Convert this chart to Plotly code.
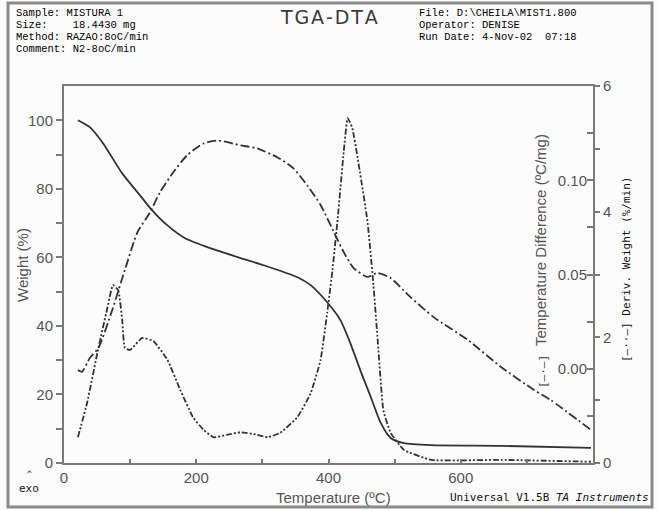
import plotly.graph_objects as go

# ---------------- data ----------------
weight_T = [21, 39, 59, 88, 115, 133, 156, 183, 221, 267, 302, 353, 373, 398, 418, 433, 448,
            464, 479, 494, 514, 555, 661, 797]
weight_pct = [100.0, 98.0, 93.3, 84.5, 78.1, 73.8, 69.4, 65.6, 62.7, 59.8, 57.7, 54.2, 51.9,
              46.9, 41.7, 35.0, 27.1, 19.2, 11.7, 7.3, 5.8, 5.2, 5.0, 4.4]

dta_T = [21, 27, 39, 52, 73, 92, 111, 130, 145, 165, 186, 211, 232, 267, 292, 323, 347, 368,
         388, 408, 423, 438, 459, 474, 494, 524, 559, 611, 661, 711, 736, 797]
dta_val = [-0.0007, -0.0017, 0.0057, 0.0110, 0.0312, 0.0524, 0.0723, 0.0829, 0.0935, 0.1041,
           0.1132, 0.1195, 0.1211, 0.1185, 0.1169, 0.1121, 0.1063, 0.0972, 0.0869, 0.0726,
           0.0619, 0.0534, 0.0487, 0.0508, 0.0481, 0.0380, 0.0274, 0.0152, 0.0009, -0.0113,
           -0.0166, -0.0325]

deriv_T = [21, 35, 52, 65, 74, 82, 88, 92, 100, 118, 135, 156, 176, 195, 211, 226, 247, 267,
           292, 308, 327, 353, 373, 388, 398, 406, 414, 423, 429, 436, 444, 459, 468, 474, 483,
           494, 514, 555, 661, 797]
deriv_val = [0.41, 0.96, 1.83, 2.44, 2.83, 2.75, 2.28, 1.83, 1.80, 1.99, 1.94, 1.65, 1.16, 0.73,
             0.53, 0.41, 0.45, 0.49, 0.45, 0.41, 0.48, 0.73, 1.11, 1.64, 2.39, 3.07, 3.90, 4.95,
             5.49, 5.33, 4.86, 3.84, 2.83, 2.01, 0.84, 0.48, 0.21, 0.05, 0.05, 0.02]

x_ticks = [0, 100, 200, 300, 400, 500, 600, 700, 800]
x_labels = ["0", "", "200", "", "400", "", "600", "", "800"]
w_ticks = [0, 10, 20, 30, 40, 50, 60, 70, 80, 90, 100]
w_labels = ["0", "", "20", "", "40", "", "60", "", "80", "", "100"]
dta_ticks = [-0.025, 0.0, 0.025, 0.05, 0.075, 0.10, 0.125]
dta_labels = ["", "0.00", "", "0.05", "", "0.10", ""]
der_ticks = [0, 1, 2, 3, 4, 5, 6]
der_labels = ["0", "", "2", "", "4", "", "6"]

# ---------------- layout geometry ----------------
W, H = 658, 510
L, R, T, B = 64, 593, 86, 463


def px(x):
    return (x - L) / (R - L)


def py(y):
    return (B - y) / (B - T)


LINE = "#333333"
AX = "#7a7a7a"
NARROW = "Liberation Sans Narrow, Arial Narrow, Liberation Sans, Arial"
TICKFONT = dict(family=NARROW, size=15, color="#555555")
TITLEFONT = dict(family=NARROW, size=15, color="#555555")
MONO = dict(family="Liberation Mono, DejaVu Sans Mono, monospace", size=10.5, color="#000000")
MONO_S = dict(family="DejaVu Sans Mono, Liberation Mono, monospace", size=11, color="#111111")

fig = go.Figure()
fig.add_trace(go.Scatter(x=weight_T, y=weight_pct, mode="lines", yaxis="y",
                         line=dict(color=LINE, width=1.8, shape="spline", smoothing=0.6),
                         showlegend=False, hoverinfo="skip"))
fig.add_trace(go.Scatter(x=dta_T, y=dta_val, mode="lines", yaxis="y2",
                         line=dict(color=LINE, width=1.8, dash="9px,3px,2px,3px", shape="spline", smoothing=0.6),
                         showlegend=False, hoverinfo="skip"))
fig.add_trace(go.Scatter(x=deriv_T, y=deriv_val, mode="lines", yaxis="y3",
                         line=dict(color=LINE, width=1.8, dash="6px,2px,2px,2px,2px,2px", shape="spline", smoothing=0.4),
                         showlegend=False, hoverinfo="skip"))

fig.update_layout(
    width=W, height=H,
    margin=dict(l=L, r=W - R, t=T, b=H - B, pad=0),
    paper_bgcolor="#fcfcfc", plot_bgcolor="#fcfcfc",
    xaxis=dict(range=[0, 800], tickvals=x_ticks, ticktext=x_labels, ticks="inside", ticklen=4,
               tickcolor=AX, tickwidth=1.5, showline=True, linecolor=AX, linewidth=2, mirror=True,
               showgrid=False, zeroline=False, tickfont=TICKFONT, fixedrange=True),
    yaxis=dict(range=[0, 110], tickvals=w_ticks, ticktext=w_labels, ticks="outside", ticklen=6,
               tickcolor=AX, tickwidth=1.5, showline=True, linecolor=AX, linewidth=2,
               showgrid=False, zeroline=False, tickfont=TICKFONT, fixedrange=True),
    yaxis2=dict(range=[-0.05, 0.15], tickvals=dta_ticks, ticktext=dta_labels, overlaying="y",
                side="right", ticks="inside", ticklabelposition="inside", ticklen=6,
                tickcolor=AX, tickwidth=1.5, showline=True, linecolor=AX, linewidth=2,
                showgrid=False, zeroline=False, tickfont=TICKFONT, fixedrange=True),
    yaxis3=dict(range=[0, 6], tickvals=der_ticks, ticktext=der_labels, overlaying="y",
                side="right", ticks="outside", ticklen=6,
                tickcolor=AX, tickwidth=1.5, showline=False,
                showgrid=False, zeroline=False, tickfont=TICKFONT, fixedrange=True),
)

ann = []


def text(x, y, s, font, xanchor="left", yanchor="middle", angle=0):
    ann.append(dict(x=px(x), y=py(y), xref="paper", yref="paper", text=s, showarrow=False,
                    xanchor=xanchor, yanchor=yanchor, textangle=angle, font=font, borderpad=0))


hdr_left = ["Sample: MISTURA 1", "Size:    18.4430 mg", "Method: RAZAO:8oC/min", "Comment: N2-8oC/min"]
for i, s in enumerate(hdr_left):
    text(15, 13 + 12 * i, s.replace(" ", "&nbsp;"), MONO)
hdr_right = ["File: D:\\CHEILA\\MIST1.800", "Operator: DENISE", "Run Date: 4-Nov-02  07:18"]
for i, s in enumerate(hdr_right):
    text(418, 13 + 12 * i, s.replace(" ", "&nbsp;"), MONO)

hs = "&#8202;"
text(329, 17, hs.join("TGA-DTA"), dict(family="DejaVu Sans, Liberation Sans", size=19, color="#3a3a3a"),
     xanchor="center")
text(22, 265, "Weight (%)", TITLEFONT, xanchor="center", angle=-90)
text(333, 497, "Temperature (ºC)", TITLEFONT, xanchor="center")
text(541, 240, "Temperature Difference (ºC/mg)", TITLEFONT, xanchor="center", angle=-90)
text(543, 372, "[—·—]", dict(family="DejaVu Sans Mono", size=11, color="#333333"), xanchor="center", angle=-90)
text(626, 270, "[—··—]&nbsp;Deriv.&nbsp;Weight&nbsp;(%/min)", MONO_S, xanchor="center", angle=-90)
text(29, 474, "^", dict(family="DejaVu Sans Mono", size=8, color="#1a1a1a"), xanchor="center")
text(29, 489, "exo", MONO_S, xanchor="center")
text(650, 497, "Universal&nbsp;V1.5B&nbsp;<i>TA&nbsp;Instruments</i>", MONO_S, xanchor="right")

fig.update_layout(annotations=ann)

# outer frame
fig.add_shape(type="rect", xref="paper", yref="paper", x0=px(8), x1=px(652), y0=py(3), y1=py(507),
              line=dict(color="#8a8a8a", width=3), fillcolor="rgba(0,0,0,0)", layer="below")

fig.write_html("out.html")
